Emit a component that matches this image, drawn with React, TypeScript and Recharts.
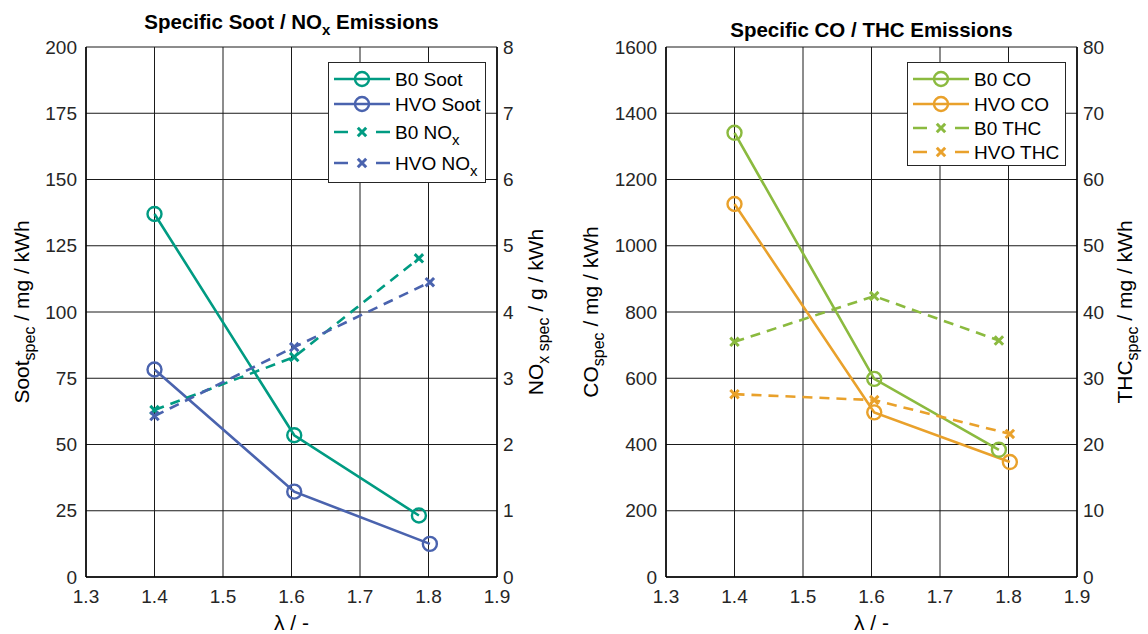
import { LineChart, Line, XAxis, YAxis, CartesianGrid, Legend } from 'recharts';

// lambda ticks and axis ticks
const lambdaTicks = [1.3, 1.4, 1.5, 1.6, 1.7, 1.8, 1.9];
const sootTicks = [0, 25, 50, 75, 100, 125, 150, 175, 200];
const noxTicks = [0, 1, 2, 3, 4, 5, 6, 7, 8];
const coTicks = [0, 200, 400, 600, 800, 1000, 1200, 1400, 1600];
const thcTicks = [0, 10, 20, 30, 40, 50, 60, 70, 80];

// operating points
const lambdaB0 = [1.4, 1.604, 1.786];
const lambdaHVO = [1.4, 1.604, 1.802];

// specific emissions
const sootB0 = [137, 53.5, 23.2];
const sootHVO = [78.3, 32.2, 12.5];
const noxB0 = [2.52, 3.32, 4.81];
const noxHVO = [2.43, 3.47, 4.45];
const coB0 = [1341, 598, 384];
const coHVO = [1126, 497, 347];
const thcB0 = [35.5, 42.4, 35.7];
const thcHVO = [27.6, 26.7, 21.6];

const TEAL = '#009B82';
const BLUE = '#4A63AE';
const GREEN = '#8BBA3F';
const ORANGE = '#E9A12B';
const FONT = '"Liberation Sans", Arial, Helvetica, sans-serif';

const pts = (xs: number[], ys: number[]) => xs.map((x, i) => ({ lambda: x, value: ys[i] }));

const ringDot = (color: string) => (p: any) => (
  <circle key={`r-${p.index}`} cx={p.cx} cy={p.cy} r={7} fill="none" stroke={color} strokeWidth={2.4} />
);

const crossDot = (color: string) => (p: any) => {
  const s = 4.2;
  return (
    <path
      key={`x-${p.index}`}
      d={`M${p.cx - s},${p.cy - s}L${p.cx + s},${p.cy + s}M${p.cx - s},${p.cy + s}L${p.cx + s},${p.cy - s}`}
      stroke={color}
      strokeWidth={3}
      fill="none"
    />
  );
};

type Part = { t: string; sub?: boolean };

const yLabel = (parts: Part[], dx: number) => (props: any) => {
  const vb = props.viewBox;
  const x = vb.x + dx;
  const y = vb.y + vb.height / 2;
  return (
    <text x={x} y={y} transform={`rotate(-90 ${x} ${y})`} textAnchor="middle" fontSize={21} fill="#000" style={{ whiteSpace: 'pre' }}>
      {parts.map((p, i) => (
        <tspan key={i} dy={p.sub ? 6 : i > 0 && parts[i - 1].sub ? -6 : 0} fontSize={p.sub ? 16 : 21}>
          {p.t}
        </tspan>
      ))}
    </text>
  );
};

const xLabel = (props: any) => {
  const vb = props.viewBox;
  return (
    <text x={vb.x + vb.width / 2} y={vb.y + 53} textAnchor="middle" fontSize={21} fill="#000">
      λ / -
    </text>
  );
};

type Item = { name: string; sub?: string; color: string; dashed: boolean; y: number };

const legendBox = (items: Item[], w: number, h: number) => () => (
  <svg width={w} height={h} style={{ display: 'block' }}>
    <rect x={0.5} y={0.5} width={w - 1} height={h - 1} fill="#fff" stroke="#262626" strokeWidth={1} />
    {items.map((it) => (
      <g key={it.name + (it.sub || '')}>
        <line x1={6} x2={62} y1={it.y} y2={it.y} stroke={it.color} strokeWidth={2.5} strokeDasharray={it.dashed ? '14 28 14' : undefined} />
        {it.dashed
          ? crossDot(it.color)({ cx: 34, cy: it.y, index: 0 })
          : ringDot(it.color)({ cx: 34, cy: it.y, index: 0 })}
        <text x={67} y={it.y + 7} fontSize={19} fill="#000">
          {it.name}
          {it.sub && (
            <tspan dy={6} fontSize={15}>
              {it.sub}
            </tspan>
          )}
        </text>
      </g>
    ))}
  </svg>
);

const leftLegend: Item[] = [
  { name: 'B0 Soot', color: TEAL, dashed: false, y: 17 },
  { name: 'HVO Soot', color: BLUE, dashed: false, y: 42 },
  { name: 'B0 NO', sub: 'x', color: TEAL, dashed: true, y: 70 },
  { name: 'HVO NO', sub: 'x', color: BLUE, dashed: true, y: 101 },
];

const rightLegend: Item[] = [
  { name: 'B0 CO', color: GREEN, dashed: false, y: 17 },
  { name: 'HVO CO', color: ORANGE, dashed: false, y: 42 },
  { name: 'B0 THC', color: GREEN, dashed: true, y: 66 },
  { name: 'HVO THC', color: ORANGE, dashed: true, y: 90 },
];

const tickStyle = { fontSize: 19, fill: '#262626' };
const axisLine = { stroke: '#000', strokeWidth: 1.5 };

export default function App() {
  return (
    <div style={{ position: 'absolute', left: 0, top: 0, width: 1148, height: 634, background: '#fff', fontFamily: FONT }}>
      <div style={{ position: 'absolute', left: 0, top: 0 }}>
        <LineChart width={574} height={634} margin={{ top: 47, right: 0, bottom: 0, left: 0 }}>
          <CartesianGrid yAxisId="left" stroke="#1a1a1a" strokeWidth={1} />
          <XAxis
            type="number"
            dataKey="lambda"
            domain={[1.3, 1.9]}
            ticks={lambdaTicks}
            interval={0}
            tickFormatter={(v: number) => v.toFixed(1)}
            height={57}
            tickSize={0}
            tickMargin={13}
            tickLine={false}
            axisLine={axisLine}
            tick={tickStyle}
            allowDataOverflow
            label={xLabel}
          />
          <YAxis
            yAxisId="left"
            type="number"
            domain={[0, 200]}
            ticks={sootTicks}
            interval={0}
            width={86}
            tickSize={0}
            tickMargin={9}
            tickLine={false}
            axisLine={axisLine}
            tick={tickStyle}
            label={yLabel([{ t: 'Soot' }, { t: 'spec', sub: true }, { t: ' / mg / kWh' }], 29)}
          />
          <YAxis
            yAxisId="right"
            orientation="right"
            type="number"
            domain={[0, 8]}
            ticks={noxTicks}
            interval={0}
            width={77}
            tickSize={0}
            tickMargin={6}
            tickLine={false}
            axisLine={axisLine}
            tick={tickStyle}
            label={yLabel([{ t: 'NO' }, { t: 'x spec', sub: true }, { t: ' / g / kWh' }], 46)}
          />
          <Line yAxisId="left" data={pts(lambdaB0, sootB0)} dataKey="value" name="B0 Soot" stroke={TEAL} strokeWidth={2.6} dot={ringDot(TEAL)} activeDot={false} isAnimationActive={false} />
          <Line yAxisId="left" data={pts(lambdaHVO, sootHVO)} dataKey="value" name="HVO Soot" stroke={BLUE} strokeWidth={2.6} dot={ringDot(BLUE)} activeDot={false} isAnimationActive={false} />
          <Line yAxisId="right" data={pts(lambdaB0, noxB0)} dataKey="value" name="B0 NOx" stroke={TEAL} strokeWidth={2.6} strokeDasharray="10 7" dot={crossDot(TEAL)} activeDot={false} isAnimationActive={false} />
          <Line yAxisId="right" data={pts(lambdaHVO, noxHVO)} dataKey="value" name="HVO NOx" stroke={BLUE} strokeWidth={2.6} strokeDasharray="10 7" dot={crossDot(BLUE)} activeDot={false} isAnimationActive={false} />
          <Legend
            layout="horizontal"
            verticalAlign="middle"
            align="center"
            content={legendBox(leftLegend, 158, 121)}
            wrapperStyle={{ left: 328, top: 62, width: 158, height: 121 }}
          />
        </LineChart>
      </div>

      <div style={{ position: 'absolute', left: 574, top: 0 }}>
        <LineChart width={574} height={634} margin={{ top: 47, right: 0, bottom: 0, left: 0 }}>
          <CartesianGrid yAxisId="left" stroke="#1a1a1a" strokeWidth={1} />
          <XAxis
            type="number"
            dataKey="lambda"
            domain={[1.3, 1.9]}
            ticks={lambdaTicks}
            interval={0}
            tickFormatter={(v: number) => v.toFixed(1)}
            height={57}
            tickSize={0}
            tickMargin={13}
            tickLine={false}
            axisLine={axisLine}
            tick={tickStyle}
            allowDataOverflow
            label={xLabel}
          />
          <YAxis
            yAxisId="left"
            type="number"
            domain={[0, 1600]}
            ticks={coTicks}
            interval={0}
            width={92}
            tickSize={0}
            tickMargin={9}
            tickLine={false}
            axisLine={axisLine}
            tick={tickStyle}
            label={yLabel([{ t: 'CO' }, { t: 'spec', sub: true }, { t: ' / mg / kWh' }], 24)}
          />
          <YAxis
            yAxisId="right"
            orientation="right"
            type="number"
            domain={[0, 80]}
            ticks={thcTicks}
            interval={0}
            width={71}
            tickSize={0}
            tickMargin={6}
            tickLine={false}
            axisLine={axisLine}
            tick={tickStyle}
            label={yLabel([{ t: 'THC' }, { t: 'spec', sub: true }, { t: ' / mg / kWh' }], 55)}
          />
          <Line yAxisId="left" data={pts(lambdaB0, coB0)} dataKey="value" name="B0 CO" stroke={GREEN} strokeWidth={2.6} dot={ringDot(GREEN)} activeDot={false} isAnimationActive={false} />
          <Line yAxisId="left" data={pts(lambdaHVO, coHVO)} dataKey="value" name="HVO CO" stroke={ORANGE} strokeWidth={2.6} dot={ringDot(ORANGE)} activeDot={false} isAnimationActive={false} />
          <Line yAxisId="right" data={pts(lambdaB0, thcB0)} dataKey="value" name="B0 THC" stroke={GREEN} strokeWidth={2.6} strokeDasharray="10 7" dot={crossDot(GREEN)} activeDot={false} isAnimationActive={false} />
          <Line yAxisId="right" data={pts(lambdaHVO, thcHVO)} dataKey="value" name="HVO THC" stroke={ORANGE} strokeWidth={2.6} strokeDasharray="10 7" dot={crossDot(ORANGE)} activeDot={false} isAnimationActive={false} />
          <Legend
            layout="horizontal"
            verticalAlign="middle"
            align="center"
            content={legendBox(rightLegend, 159, 104)}
            wrapperStyle={{ left: 333, top: 62, width: 159, height: 104 }}
          />
        </LineChart>
      </div>

      {/* titles */}
      <svg width={1148} height={50} style={{ position: 'absolute', left: 0, top: 0, pointerEvents: 'none' }}>
        <text x={291.5} y={29} textAnchor="middle" fontSize={20.5} fontWeight="bold" fill="#000">
          Specific Soot / NO
          <tspan dy={6} fontSize={15}>x</tspan>
          <tspan dy={-6}> Emissions</tspan>
        </text>
        <text x={871.5} y={37} textAnchor="middle" fontSize={20.5} fontWeight="bold" fill="#000">
          Specific CO / THC Emissions
        </text>
      </svg>
    </div>
  );
}
